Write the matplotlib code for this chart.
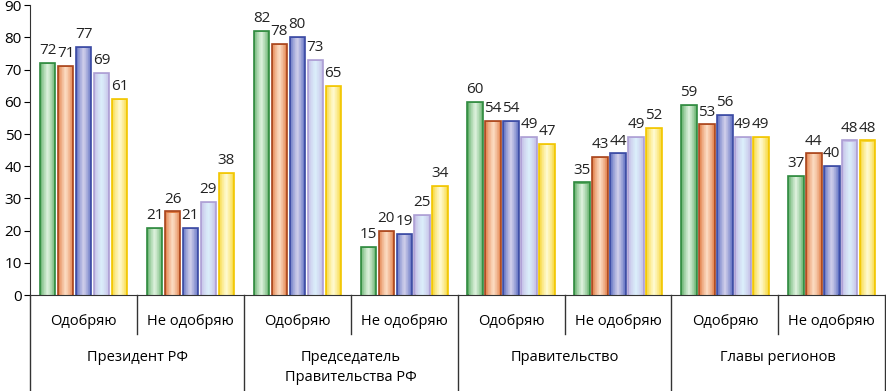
import numpy as np
import matplotlib.pyplot as plt
from matplotlib.colors import to_rgb

plt.rcParams['font.family'] = ['Open Sans', 'DejaVu Sans']

groups = ['Президент РФ', 'Председатель\nПравительства РФ', 'Правительство', 'Главы регионов']
subgroups = ['Одобряю', 'Не одобряю']

# rows: series, columns: 8 category slots (group x subgroup)
s1 = [72, 21, 82, 15, 60, 35, 59, 37]
s2 = [71, 26, 78, 20, 54, 43, 53, 44]
s3 = [77, 21, 80, 19, 54, 44, 56, 40]
s4 = [69, 29, 73, 25, 49, 49, 49, 48]
s5 = [61, 38, 65, 34, 47, 52, 49, 48]
series = [s1, s2, s3, s4, s5]

# (edge, outer fill, centre fill)
colors = [
    ('#2f8a3f', '#5fae67', '#e2f4e2'),
    ('#a8441c', '#e07a42', '#fde0c8'),
    ('#3b4aa3', '#5a6cc0', '#d4d2ec'),
    ('#ad9fd4', '#c4bce6', '#dcf0fb'),
    ('#f2c600', '#f7d634', '#fffbd8'),
]


def blend(c1, c2, t):
    a = np.array(to_rgb(c1))
    b = np.array(to_rgb(c2))
    return tuple(a + (b - a) * t)


fig = plt.figure(figsize=(8.87, 3.91), dpi=100)
ax = fig.add_axes([0.034, 0.245, 0.964, 0.742])

n_slots = len(s1)
x = np.arange(n_slots)
step = 0.168
bw = 0.145
n_layers = 12

for i, vals in enumerate(series):
    edge, outer, centre = colors[i]
    xs = x + (i - 2) * step
    ax.bar(xs, vals, width=bw, color=outer, edgecolor=edge, linewidth=1.2, zorder=2)
    for k in range(1, n_layers):
        t = k / (n_layers - 1)
        w = bw * (1 - t) * 0.95
        ax.bar(xs, np.array(vals) - 0.35, width=w, color=blend(outer, centre, t ** 0.7),
               linewidth=0, zorder=2 + k * 0.01)
    for xi, v in zip(xs, vals):
        ax.text(xi, v + 1.5, str(v), ha='center', va='bottom', fontsize=11, color='#222222')

ax.set_xlim(-0.5, n_slots - 0.5)
ax.set_ylim(0, 90)
ax.set_yticks(range(0, 91, 10))
ax.tick_params(axis='y', labelsize=11, length=4, direction='out', pad=2)
ax.set_xticks([])
for s in ['top', 'right']:
    ax.spines[s].set_visible(False)
ax.spines['left'].set_color('#333333')
ax.spines['bottom'].set_color('#333333')

tr = ax.get_xaxis_transform()
# sub-group labels and separators
for j in range(n_slots):
    ax.text(j, -0.09, subgroups[j % 2], transform=tr, ha='center', va='center', fontsize=10.5)
for j in range(1, n_slots, 2):
    ax.plot([j - 0.5, j - 0.5], [0, -0.135], transform=tr, color='#333333', lw=1, clip_on=False)
for g in range(len(groups) + 1):
    xb = 2 * g - 0.5
    ax.plot([xb, xb], [0, -0.34], transform=tr, color='#333333', lw=1, clip_on=False)
for g, name in enumerate(groups):
    ax.text(2 * g + 0.5, -0.19, name, transform=tr, ha='center', va='top', fontsize=10.5,
            linespacing=1.45)

fig.savefig('out.png', dpi=100)
